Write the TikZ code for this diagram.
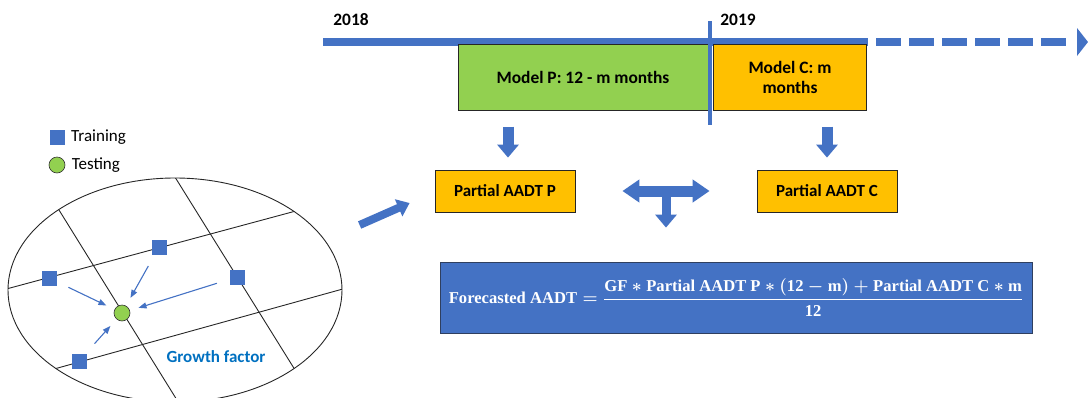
\documentclass[tikz,border=0pt]{standalone}
\usepackage{fontspec}
\usepackage{amsmath}
\setmainfont{Carlito}
\newfontfamily\formfont{Liberation Serif}
\usetikzlibrary{arrows.meta,calc,positioning}

\definecolor{tlblue}{HTML}{4472C4}
\definecolor{boxgreen}{HTML}{92D050}
\definecolor{boxorange}{HTML}{FFC000}
\definecolor{gftext}{HTML}{0070C0}
\definecolor{formedge}{HTML}{2F3F5F}

\newcommand{\ft}[1]{\text{\formfont\bfseries #1}}

\tikzset{
    modelbox/.style={draw=black!85, line width=0.8pt, minimum height=66pt,
        font=\bfseries\fontsize{17.4}{20}\selectfont, align=center, inner sep=0pt},
    aadtbox/.style={draw=black!85, line width=0.8pt, fill=boxorange,
        minimum width=140pt, minimum height=42pt, inner sep=0pt,
        font=\bfseries\fontsize{17}{20}\selectfont},
    formbox/.style={draw=formedge, line width=0.8pt, fill=tlblue, text=white,
        minimum width=592pt, minimum height=71pt, inner sep=0pt,
        font=\boldmath\fontsize{16.6}{20}\selectfont},
    yearlabel/.style={font=\bfseries\fontsize{17.4}{20}\selectfont},
    fatarrow/.style={draw=tlblue, line width=11pt, -{Triangle[width=21pt,length=13pt]}},
    widearrow/.style={draw=tlblue, line width=11pt,
        {Triangle[width=22pt,length=17pt]}-{Triangle[width=22pt,length=17pt]}},
    trainsq/.style={fill=tlblue, minimum size=15pt, inner sep=0pt},
    testdot/.style={circle, draw=black!80, line width=0.6pt, fill=boxgreen,
        minimum size=16pt, inner sep=0pt},
    gfarrow/.style={draw=tlblue, line width=1.1pt, shorten <=13pt, shorten >=9pt,
        -{Triangle[length=8pt,width=6pt]}},
    gridline/.style={draw=black!85, line width=0.9pt},
    legtext/.style={font=\fontsize{17}{20}\selectfont}
}

\begin{document}
\begin{tikzpicture}[x=1pt,y=-1pt]
    \useasboundingbox (0,0) rectangle (1088,397);
    \clip (0,0) rectangle (1088,397);

    % time line
    \draw[tlblue, line width=8pt] (323,42) -- (868,42);
    \draw[tlblue, line width=8pt, dash pattern=on 25pt off 8pt] (876,42) -- (1068,42);
    \fill[tlblue] (1077,28) -- (1088,42) -- (1077,56) -- cycle;
    \node[yearlabel] (y2018) at (351,20) {2018};
    \node[yearlabel] (y2019) at (738,20) {2019};

    % models
    \node[modelbox, fill=boxgreen, minimum width=250pt] (modelP) at (583,77) {Model P: 12 - m months};
    \node[modelbox, fill=boxorange, minimum width=153pt] (modelC) at (790,77) {Model C: m\\months};
    \draw[tlblue, line width=3.5pt] (710,21) -- (710,125);

    % partial AADT
    \node[aadtbox] (partialP) at (505,191) {Partial AADT P};
    \node[aadtbox] (partialC) at (827,191) {Partial AADT C};
    \draw[fatarrow] ($(partialP.north)+(3,-43)$) -- ($(partialP.north)+(3,-12)$);
    \draw[fatarrow] ($(partialC.north)+(0,-43)$) -- ($(partialC.north)+(0,-12)$);

    \node[formbox] (forecast) at (736,297.5)
        {$\ft{Forecasted AADT} = \dfrac{\ft{GF} * \ft{Partial AADT P} * (\ft{12} - \ft{m}) + \ft{Partial AADT C} * \ft{m}}{\ft{12}}$};

    \coordinate (hub) at ($(partialP.east)!0.5!(partialC.west)$);
    \draw[widearrow] ($(partialP.east)+(47,0)$) -- ($(partialC.west)+(-47,0)$);
    \draw[fatarrow, line width=9pt] (hub) -- ($(forecast.north)+(-70,-34)$);

    % growth factor zone
    \begin{scope}
        \clip (175,290) ellipse [x radius=167, y radius=112];
        \draw[gridline] (0,290.7) -- (350,196.4);
        \draw[gridline] (0,384) -- (350,287);
        \draw[gridline] (40,179.4) -- (190,421);
        \draw[gridline] (160,153) -- (310,394);
    \end{scope}
    \draw[black!85, line width=0.9pt] (175,290) ellipse [x radius=167, y radius=112];

    \node[trainsq] (sq1) at (159,247) {};
    \node[trainsq] (sq2) at (49,278) {};
    \node[trainsq] (sq3) at (237,277) {};
    \node[trainsq] (sq4) at (79,361) {};
    \node[testdot] (test) at (122,313) {};
    \foreach \s in {sq1,sq2,sq3,sq4}
        \draw[gfarrow] (\s) -- (test);
    \node[font=\bfseries\fontsize{17}{20}\selectfont, text=gftext] (gf) at (216,357) {Growth factor};

    % legend
    \node[trainsq] (legsq) at (57,137) {};
    \node[right=3pt of legsq, legtext] (legtrain) {Training};
    \node[testdot] (legdot) at (57,165) {};
    \node[right=3pt of legdot, legtext] (legtest) {Testing};

    \draw[fatarrow, line width=8pt, -{Triangle[width=18pt,length=12pt]}]
        ($(partialP.west)+(-75,34)$) -- ($(partialP.west)+(-25,12)$);
\end{tikzpicture}
\end{document}
